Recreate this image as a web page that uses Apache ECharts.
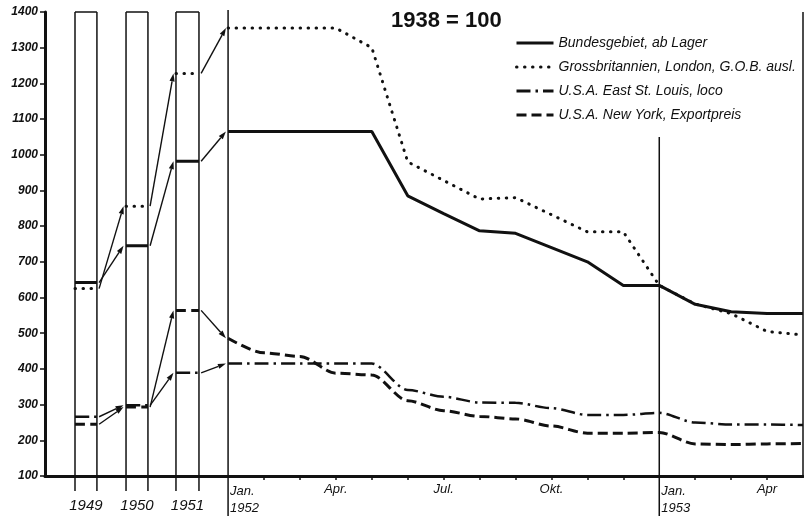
<!DOCTYPE html>
<html style="height: 100%">
    <head>
        <meta charset="utf-8">
        <script type="text/javascript" src="https://cdn.jsdelivr.net/npm/echarts@6/dist/echarts.min.js"></script>
    </head>
    <body style="height: 100%; margin: 0; background-color: #fff">
        <div id="container" style="width: 804px; height: 517px"></div>
        <script type="text/javascript">
        // Jahreswerte 1949-1951 (1938 = 100)
        var years = ['1949', '1950', '1951'];
        var yearBund = [642, 745, 982];
        var yearGB = [625, 856, 1228];
        var yearStL = [266, 298, 389];
        var yearNY = [245, 293, 564];

        // Monatswerte Jan. 1952 - Mai 1953
        var months = ['Jan. 1952', 'Feb.', 'März', 'Apr.', 'Mai', 'Juni', 'Juli', 'Aug.', 'Sep.', 'Okt.', 'Nov.', 'Dez.',
                      'Jan. 1953', 'Feb.', 'März', 'Apr.', 'Mai'];
        var monthBund = [1065, 1065, 1065, 1065, 1065, 885, 835, 787, 780, 740, 700, 634, 634, 581, 560, 555, 555];
        var monthGB = [1355, 1355, 1355, 1355, 1300, 980, 928, 876, 880, 832, 784, 784, 634, 582, 555, 505, 495];
        var monthStL = [415, 415, 415, 415, 415, 341, 322, 306, 305, 290, 271, 271, 277, 250, 244, 244, 243];
        var monthNY = [486, 445, 435, 388, 383, 311, 283, 267, 260, 240, 220, 220, 222, 190, 188, 190, 191];

        var names = ['Bundesgebiet, ab Lager', 'Grossbritannien, London, G.O.B. ausl.',
                     'U.S.A. East St. Louis, loco', 'U.S.A. New York, Exportpreis'];
        var yTicks = [100, 200, 300, 400, 500, 600, 700, 800, 900, 1000, 1100, 1200, 1300, 1400];
        var monthLabels = {3: 'Apr.', 6: 'Jul.', 9: 'Okt.', 15: 'Apr'};
        var janLabels = {0: 'Jan.\n1952', 12: 'Jan.\n1953'};

        // Lage der Jahressaeulen auf der Monatsachse (Jan. 1952 = 0)
        var bands = [[-4.26, -3.65], [-2.84, -2.23], [-1.45, -0.81]];
        var bandMid = bands.map(function (b) { return (b[0] + b[1]) / 2; });

        function lineData(yearVals, monthVals) {
            var d = [];
            yearVals.forEach(function (v, i) {
                d.push([bands[i][0], v], [bands[i][1], v], [bands[i][1], '-']);
            });
            monthVals.forEach(function (v, i) { d.push([i, v]); });
            return d;
        }

        // Pfeile von Saeule zu Saeule
        var arrows = [];
        [[yearBund, monthBund], [yearGB, monthGB], [yearStL, monthStL], [yearNY, monthNY]].forEach(function (s) {
            for (var i = 0; i < 3; i++) {
                var next = i < 2 ? s[0][i + 1] : s[1][0];
                var x2 = i < 2 ? bands[i + 1][0] - 0.07 : -0.06;
                arrows.push([bands[i][1] + 0.06, s[0][i], x2, next]);
            }
        });

        var dom = document.getElementById('container');
        var chart = echarts.init(dom);
        var txt = '#111';
        var font = 'Liberation Sans';

        var xBase = {
            type: 'value', min: -5.095, max: 16, position: 'bottom',
            splitLine: {show: false}
        };

        option = {
            backgroundColor: '#fff',
            animation: false,
            title: {
                text: '1938 = 100', left: 386, top: 5,
                textStyle: {fontFamily: font, fontSize: 22, fontWeight: 'bold', color: txt}
            },
            legend: {
                data: names, orient: 'vertical', left: 515, top: 36, padding: 0,
                itemWidth: 37, itemHeight: 14, itemGap: 10,
                itemStyle: {color: 'rgba(0,0,0,0)', borderWidth: 0},
                lineStyle: {width: 3},
                textStyle: {fontFamily: font, fontStyle: 'italic', fontSize: 14, color: txt}
            },
            grid: {left: 45, right: 1, top: 12, bottom: 39},
            xAxis: [
                Object.assign({}, xBase, {
                    axisLine: {lineStyle: {color: txt, width: 3}},
                    axisTick: {customValues: [1, 2, 3, 4, 5, 6, 7, 8, 9, 10, 11, 13, 14, 15], length: 4,
                               lineStyle: {color: txt, width: 1.5}},
                    axisLabel: {
                        customValues: [3, 6, 9, 15], margin: 7,
                        fontFamily: font, fontStyle: 'italic', fontSize: 13, color: txt,
                        formatter: function (v) { return monthLabels[Math.round(v)]; }
                    }
                }),
                Object.assign({}, xBase, {
                    axisLine: {show: false}, axisTick: {show: false},
                    axisLabel: {
                        customValues: [0, 12], margin: 7, align: 'left', lineHeight: 17,
                        padding: [0, 0, 0, 2],
                        fontFamily: font, fontStyle: 'italic', fontSize: 13, color: txt,
                        formatter: function (v) { return janLabels[Math.round(v)]; }
                    }
                }),
                Object.assign({}, xBase, {
                    axisLine: {show: false}, axisTick: {show: false},
                    axisLabel: {
                        customValues: bandMid, margin: 22,
                        fontFamily: font, fontStyle: 'italic', fontSize: 15, color: txt,
                        formatter: function (v) {
                            var i = bandMid.findIndex(function (m) { return Math.abs(m - v) < 0.01; });
                            return years[i];
                        }
                    }
                })
            ],
            yAxis: {
                type: 'value', min: 100, max: 1400, interval: 100,
                axisLine: {show: true, onZero: false, lineStyle: {color: txt, width: 3}},
                axisTick: {show: true, length: 5, lineStyle: {color: txt, width: 1.5}},
                splitLine: {show: false},
                axisLabel: {
                    margin: 7, fontFamily: font, fontStyle: 'italic', fontWeight: 'bold', fontSize: 12, color: txt,
                    customValues: yTicks,
                    formatter: function (v) { return String(v); }
                }
            },
            series: [
                {
                    name: names[0], type: 'line', symbol: 'none', connectNulls: false,
                    lineStyle: {color: txt, width: 3},
                    itemStyle: {color: txt},
                    data: lineData(yearBund, monthBund)
                },
                {
                    name: names[1], type: 'line', symbol: 'none', connectNulls: false,
                    lineStyle: {color: txt, width: 3, type: [0.5, 7.5], cap: 'round'},
                    itemStyle: {color: txt},
                    data: lineData(yearGB, monthGB)
                },
                {
                    name: names[2], type: 'line', symbol: 'none', connectNulls: false,
                    smooth: 0.3, smoothMonotone: 'x',
                    lineStyle: {color: txt, width: 2.5, type: [14, 5, 2.5, 5]},
                    itemStyle: {color: txt},
                    data: lineData(yearStL, monthStL)
                },
                {
                    name: names[3], type: 'line', symbol: 'none', connectNulls: false,
                    smooth: 0.3, smoothMonotone: 'x',
                    lineStyle: {color: txt, width: 3, type: [10, 5]},
                    itemStyle: {color: txt},
                    data: lineData(yearNY, monthNY)
                },
                {
                    // Rahmen der Jahressaeulen und senkrechte Linien
                    type: 'custom', silent: true, clip: false,
                    data: [[0, 100]],
                    renderItem: function (params, api) {
                        var st = {stroke: txt, lineWidth: 1.5};
                        var kids = [];
                        function seg(a, b) {
                            kids.push({type: 'line', shape: {x1: a[0], y1: a[1], x2: b[0], y2: b[1]}, style: st});
                        }
                        bands.forEach(function (b) {
                            var tl = api.coord([b[0], 1400]), tr = api.coord([b[1], 1400]);
                            var bl = api.coord([b[0], 100]), br = api.coord([b[1], 100]);
                            seg(tl, [bl[0], bl[1] + 15]);
                            seg(tr, [br[0], br[1] + 15]);
                            seg(tl, tr);
                        });
                        var j1t = api.coord([0, 1400]), j1b = api.coord([0, 100]);
                        seg([j1t[0], j1t[1] - 2], [j1b[0], j1b[1] + 40]);
                        var j2t = api.coord([12, 1050]), j2b = api.coord([12, 100]);
                        seg(j2t, [j2b[0], j2b[1] + 40]);
                        seg(api.coord([16, 1400]), api.coord([16, 100]));
                        return {type: 'group', children: kids};
                    }
                },
                {
                    // Pfeile zwischen den Jahreswerten
                    type: 'custom', silent: true, clip: false,
                    data: arrows,
                    renderItem: function (params, api) {
                        var p1 = api.coord([api.value(0), api.value(1)]);
                        var p2 = api.coord([api.value(2), api.value(3)]);
                        var dx = p2[0] - p1[0], dy = p2[1] - p1[1];
                        var len = Math.sqrt(dx * dx + dy * dy);
                        var ux = dx / len, uy = dy / len;
                        var hl = 8, hw = 2.6;
                        var bx = p2[0] - ux * hl, by = p2[1] - uy * hl;
                        return {
                            type: 'group',
                            children: [
                                {type: 'line', shape: {x1: p1[0], y1: p1[1], x2: bx, y2: by},
                                 style: {stroke: txt, lineWidth: 1.4}},
                                {type: 'polygon', shape: {points: [p2, [bx - uy * hw, by + ux * hw], [bx + uy * hw, by - ux * hw]]},
                                 style: {fill: txt}}
                            ]
                        };
                    }
                }
            ]
        };
        chart.setOption(option);
        </script>
    </body>
</html>
